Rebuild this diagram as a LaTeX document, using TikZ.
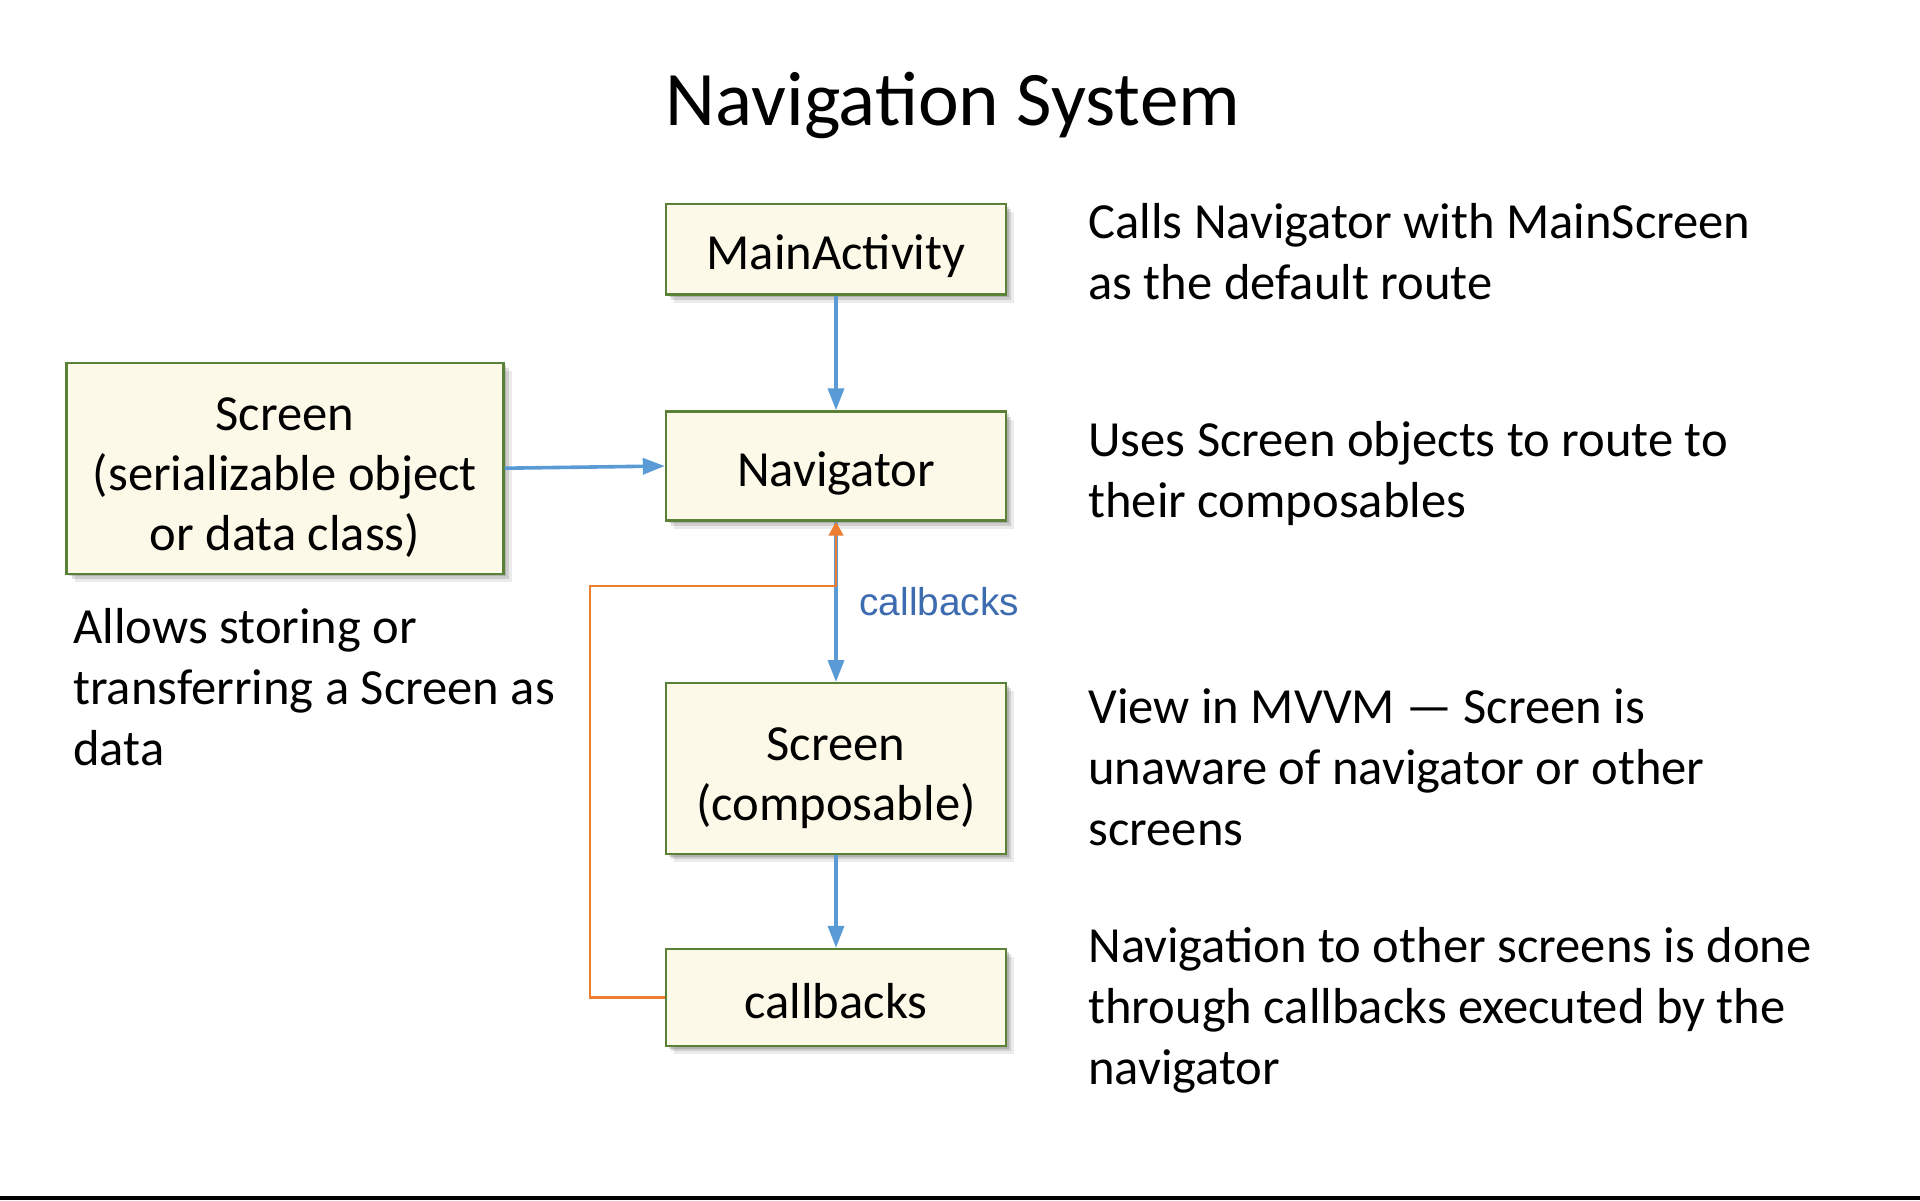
\documentclass[tikz,border=0pt]{standalone}
\usepackage{fontspec}
\setmainfont{Carlito}
\newfontfamily\labelfont{Liberation Sans}
\usetikzlibrary{arrows.meta,shadows}
\definecolor{boxfill}{HTML}{FDF9E8}
\definecolor{boxline}{HTML}{5A8236}
\definecolor{bluearrow}{HTML}{5B9BD5}
\definecolor{orangearrow}{HTML}{ED7D31}
\definecolor{labelblue}{HTML}{3D6BB0}
\begin{document}
\begin{tikzpicture}[x=0.5pt,y=-0.5pt,
  box/.style={draw=boxline, line width=1.2pt, fill=boxfill, align=center, inner sep=0pt,
    font=\fontsize{25.3pt}{30pt}\selectfont,
    drop shadow={shadow xshift=1.3pt,shadow yshift=-1.3pt,opacity=0.15,fill=black},
    drop shadow={shadow xshift=2.6pt,shadow yshift=-2.6pt,opacity=0.12,fill=black},
    drop shadow={shadow xshift=4pt,shadow yshift=-4pt,opacity=0.08,fill=black}},
  onebox/.style={box, text height=25pt, text depth=4.5pt},
  desc/.style={align=left, inner sep=0pt, font=\fontsize{25.3pt}{30.3pt}\selectfont, anchor=base west},
  bluearr/.style={draw=bluearrow, line width=1.8pt, -{Triangle[length=11pt,width=8pt]}},
  orangearr/.style={draw=orangearrow, line width=1.4pt, -{Triangle[length=7pt,width=7.3pt]}}]
\useasboundingbox (0,0) rectangle (1920,1200);
\fill[white] (0,0) rectangle (1920,1200);
\fill[black] (0,1196) rectangle (1920,1200);

\node[font=\fontsize{38.6pt}{44pt}\selectfont, inner sep=0pt, anchor=base] (title) at (953,125) {Navigation System};

\node[onebox, minimum width=170pt, minimum height=45.25pt] (main) at (836,249.3) {MainActivity};
\node[onebox, minimum width=170pt, minimum height=54.5pt] (nav) at (836,466) {Navigator};
\node[box, minimum width=218.5pt, minimum height=105.5pt] (ser) at (285,468.2) {\rule{0pt}{26pt}Screen\\(serializable object\\or data class)};
\node[box, minimum width=170pt, minimum height=85.5pt] (comp) at (836,768.7) {\rule{0pt}{26pt}Screen\\(composable)};
\node[onebox, minimum width=170pt, minimum height=48.5pt] (cb) at (836,997.5) {callbacks};

\coordinate (j) at (836,586);
\coordinate (c2) at (590,586);
\coordinate (c1) at (590,997.5);

\draw[bluearr] (main.south) -- (nav.north);
\draw[bluearr] (ser.east) -- (nav.west);
\draw[bluearr] (nav.south) -- (comp.north);
\draw[bluearr] (comp.south) -- (cb.north);
\draw[orangearr] (cb.west) -- (c1) -- (c2) -- (j) -- (nav.south);

\node[anchor=west, inner sep=0pt, text=labelblue, font=\labelfont\fontsize{19.4pt}{23pt}\selectfont] (lbl) at (859,602) {callbacks};

\node[desc] (d1) at (1088,299) {Calls Navigator with MainScreen\\as the default route};
\node[desc] (d2) at (1088,517) {Uses Screen objects to route to\\their composables};
\node[desc] (d3) at (1088,845) {View in MVVM — Screen is\\unaware of navigator or other\\screens};
\node[desc] (d4) at (1088,1084) {Navigation to other screens is done\\through callbacks executed by the\\navigator};
\node[desc] (d5) at (73,765) {Allows storing or\\transferring a Screen as\\data};
\end{tikzpicture}
\end{document}
